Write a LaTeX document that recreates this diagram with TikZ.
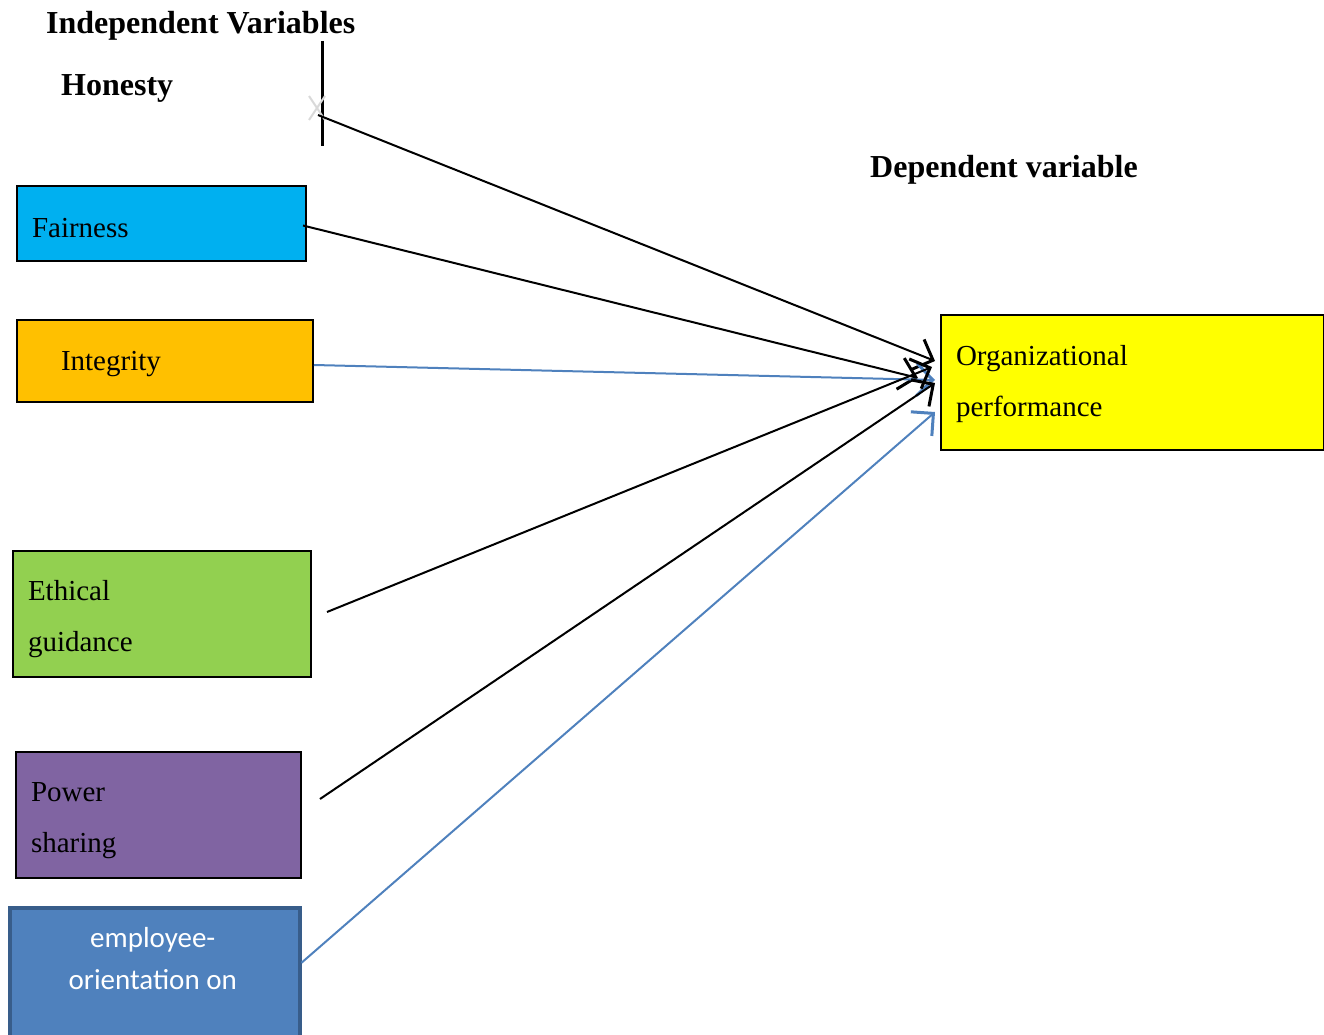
\documentclass[tikz,border=0pt]{standalone}
\usepackage{fontspec}
\setmainfont{Liberation Serif}
\newfontfamily\calibrifont{Carlito}
\usetikzlibrary{arrows.meta,calc}
\definecolor{fairblue}{HTML}{00B0F0}
\definecolor{integorange}{HTML}{FFC000}
\definecolor{ethgreen}{HTML}{92D050}
\definecolor{powpurple}{HTML}{8064A2}
\definecolor{empblue}{HTML}{4F81BD}
\definecolor{empborder}{HTML}{385D8A}
\definecolor{orgyellow}{HTML}{FFFF00}
\definecolor{xgray}{HTML}{D9D9D9}
\newcommand{\lift}[1]{\rule{0pt}{#1}}
\tikzset{
  varbox/.style={draw=black, line width=2pt, rectangle, anchor=north west, inner ysep=0pt,
    align=left, font=\fontsize{29}{51}\selectfont},
  heading/.style={anchor=base west, inner sep=0pt, font=\fontsize{32}{38}\selectfont\bfseries},
  link/.style={line width=2pt, -{Straight Barb[length=16pt,width=32pt,line width=3pt]}},
  bluelink/.style={link, draw=empblue},
}
\begin{document}
\begin{tikzpicture}[x=1pt,y=-1pt]
\clip (0,0) rectangle (1324,1035);
\useasboundingbox (0,0) rectangle (1324,1035);

% headings
\node[heading] (indep) at (46,34) {Independent Variables};
\node[heading] (honesty) at (61,96) {Honesty};
\node[heading] (dep) at (870,178) {Dependent variable};

% honesty marker
\draw[line width=3pt] (322,41) -- (322,146);
\coordinate (hx) at (317,108);
\draw[xgray, line width=2pt] ($(hx)+(-8,-12)$) -- ($(hx)+(8,12)$) ($(hx)+(-8,12)$) -- ($(hx)+(8,-12)$);

% boxes
\node[varbox, fill=fairblue, minimum width=289pt, minimum height=75pt, text width=259pt, inner xsep=15pt] (fair) at (16,185) {\lift{28pt}Fairness};
\node[varbox, fill=integorange, minimum width=296pt, minimum height=82pt, text width=208pt, inner xsep=44pt] (integ) at (16,319) {\lift{26pt}Integrity};
\node[varbox, fill=ethgreen, minimum width=298pt, minimum height=126pt, text width=268pt, inner xsep=15pt] (eth) at (12,550) {\lift{31pt}Ethical\\guidance};
\node[varbox, fill=powpurple, minimum width=285pt, minimum height=126pt, text width=255pt, inner xsep=15pt] (pow) at (15,751) {\lift{31pt}Power\\sharing};
\node[draw=empborder, fill=empblue, line width=3.5pt, rectangle, anchor=north west, minimum width=290pt, minimum height=160pt, inner sep=0pt] (emp) at (8,906) {};
\node[text=white, align=center, inner sep=0pt, font=\calibrifont\fontsize{29}{42}\selectfont] (emptext) at ($(emp.north)+(-2,53)$) {employee-\\orientation on};
\node[varbox, fill=orgyellow, minimum width=383pt, minimum height=135pt, text width=353pt, inner xsep=15pt] (org) at (940,314) {\lift{24pt}Organizational\\performance};

% connectors
\draw[link] ($(hx)+(1,7)$) -- ($(org.north west)+(-5,47)$);
\draw[link] ($(fair.east)+(-4,2)$) -- ($(org.north west)+(-22,64)$);
\draw[bluelink] ($(integ.east)+(0,4)$) -- ($(org.north west)+(-5,66)$);
\draw[link] ($(eth.east)+(15,-2)$) -- ($(org.north west)+(-8,53)$);
\draw[link] ($(pow.east)+(18,-16)$) -- ($(org.north west)+(-5,69)$);
\draw[bluelink] ($(emp.east)+(0,-25)$) -- ($(org.north west)+(-5,98)$);
\end{tikzpicture}
\end{document}
